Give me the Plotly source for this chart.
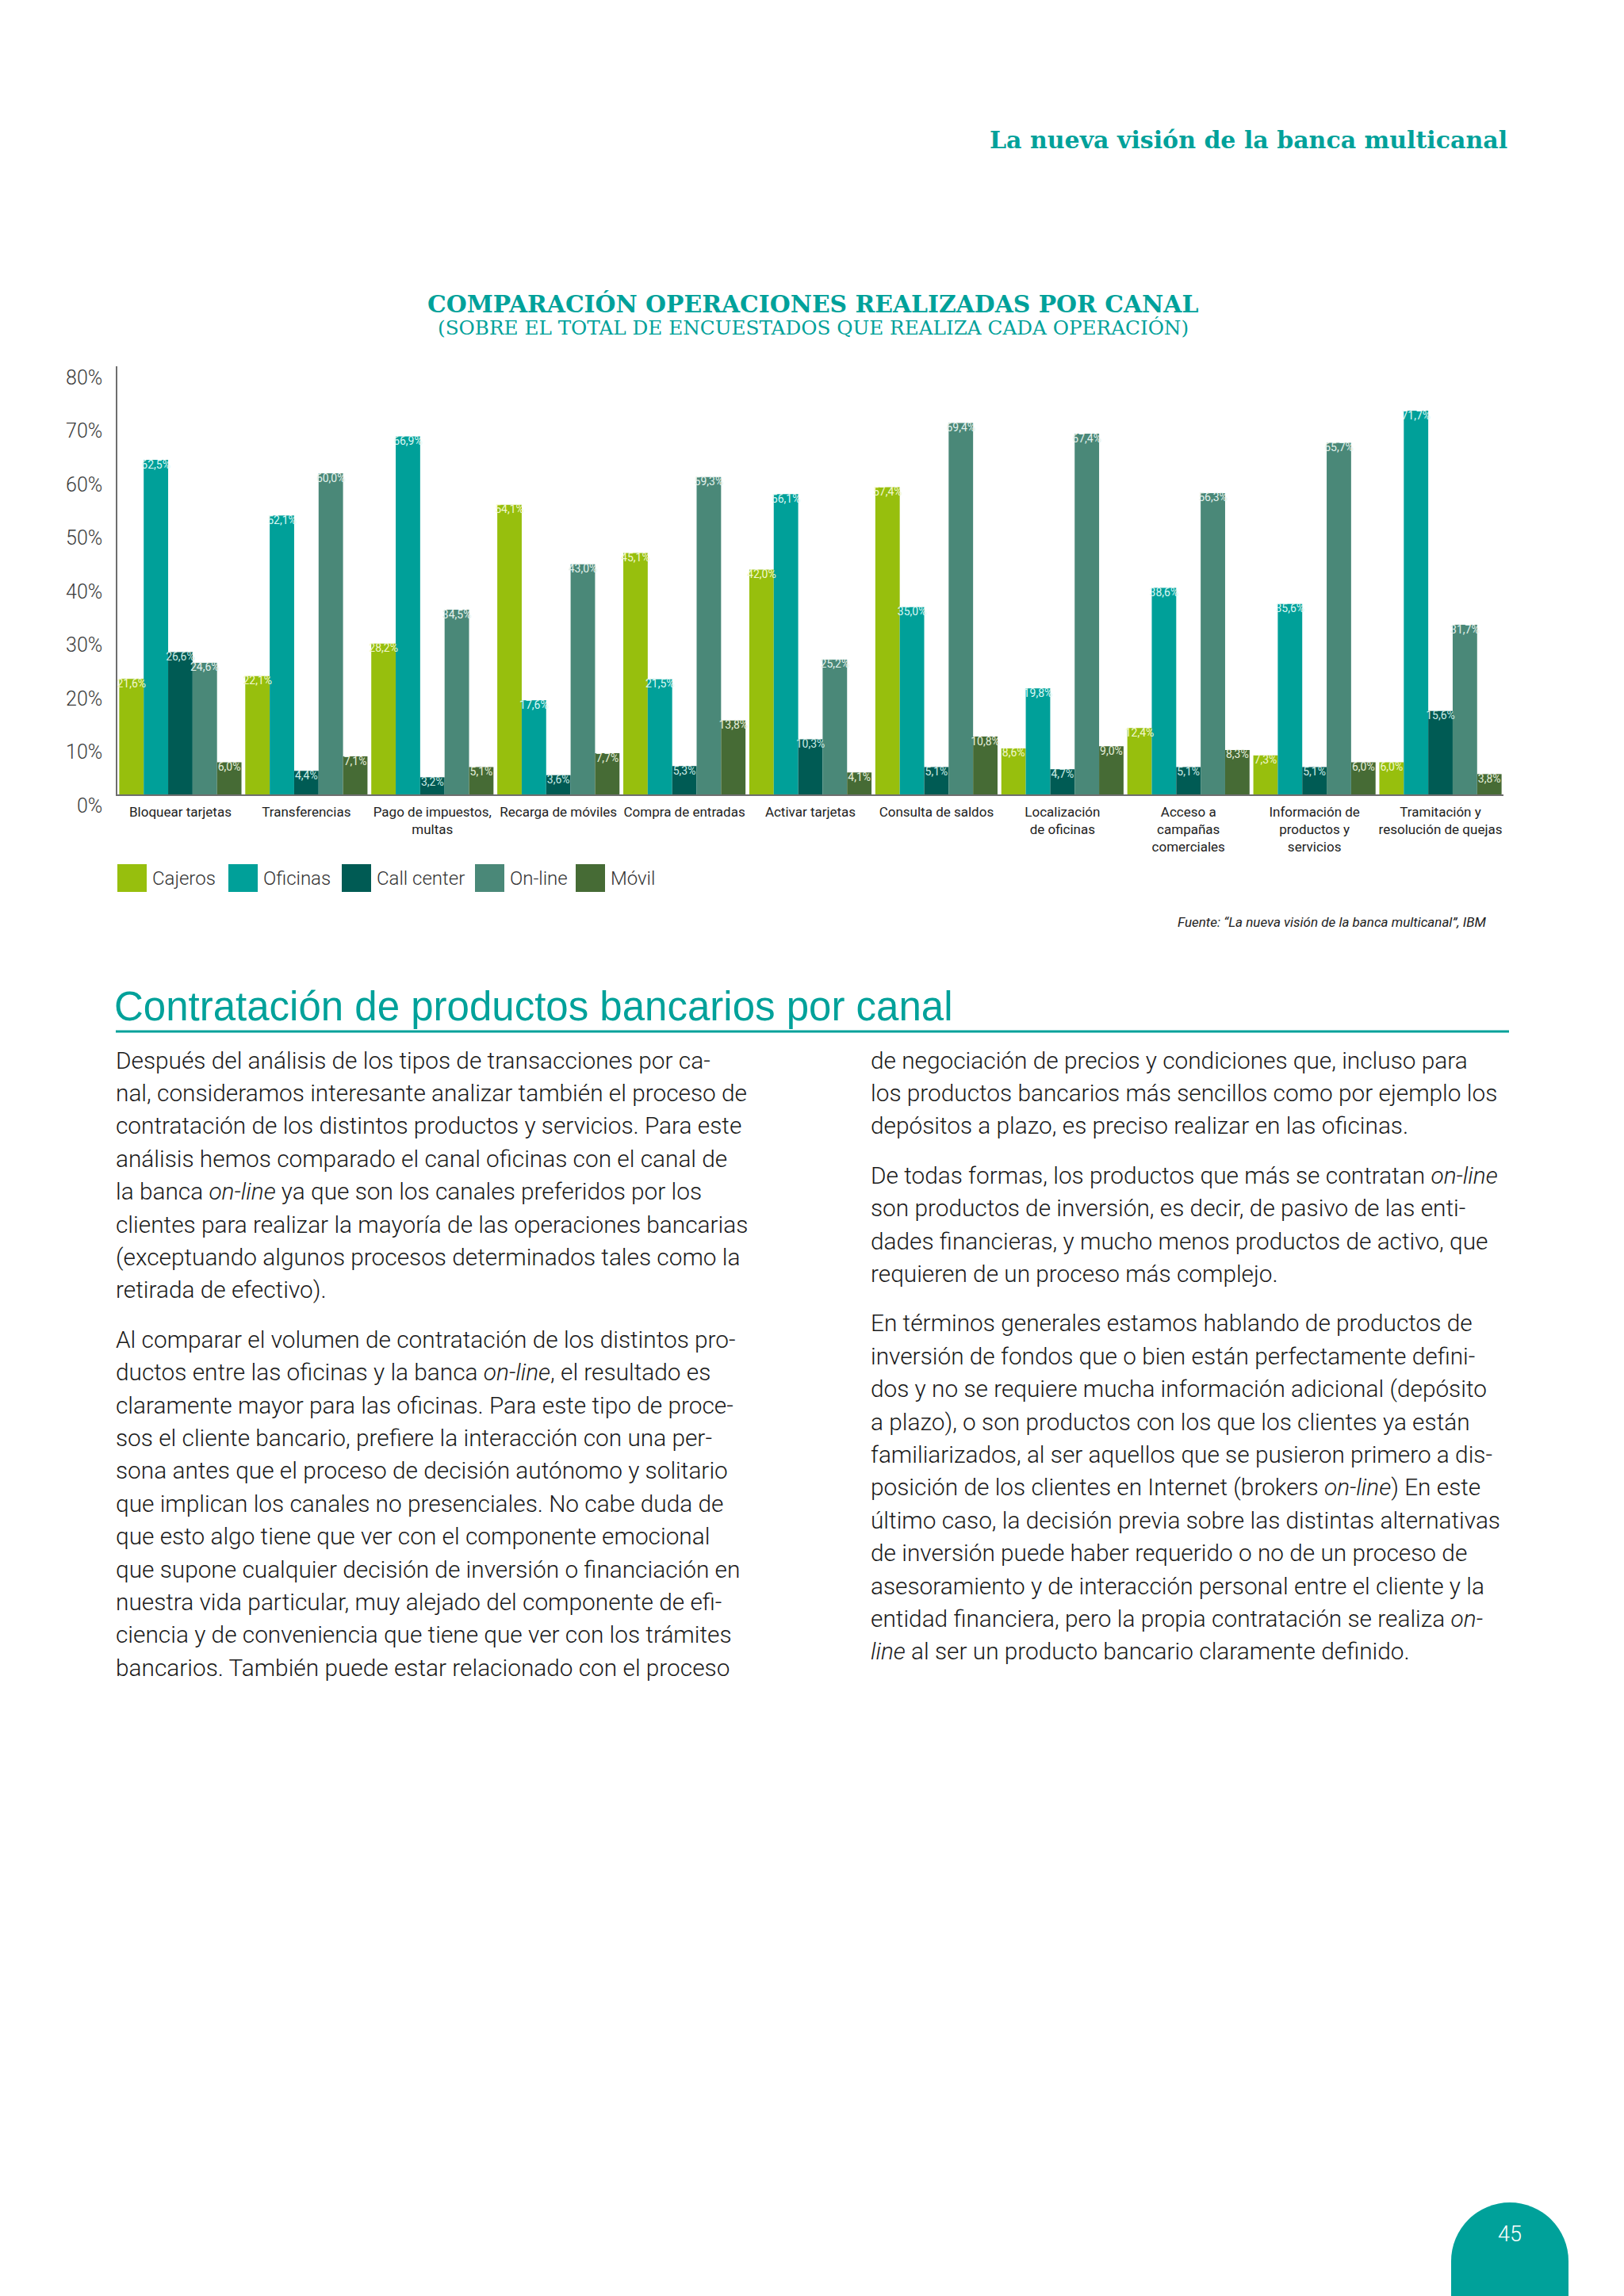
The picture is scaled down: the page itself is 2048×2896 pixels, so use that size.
import plotly.graph_objects as go

W, H = 2048, 2896
PAGE_OFFSET = 8  # browser body margin compensation

# ---------------- data ----------------
categories = [
    "Bloquear tarjetas", "Transferencias", "Pago de impuestos, multas",
    "Recarga de móviles", "Compra de entradas", "Activar tarjetas",
    "Consulta de saldos", "Localización de oficinas",
    "Acceso a campañas comerciales", "Información de productos y servicios",
    "Tramitación y resolución de quejas",
]
tick_labels = [
    "Bloquear tarjetas", "Transferencias", "Pago de impuestos,<br>multas",
    "Recarga de móviles", "Compra de entradas", "Activar tarjetas",
    "Consulta de saldos", "Localización<br>de oficinas",
    "Acceso a<br>campañas<br>comerciales", "Información de<br>productos y<br>servicios",
    "Tramitación y<br>resolución de quejas",
]
series_names = ["Cajeros", "Oficinas", "Call center", "On-line", "Móvil"]
cajeros     = [21.6, 22.1, 28.2, 54.1, 45.1, 42.0, 57.4, 8.6, 12.4, 7.3, 6.0]
oficinas    = [62.5, 52.1, 66.9, 17.6, 21.5, 56.1, 35.0, 19.8, 38.6, 35.6, 71.7]
call_center = [26.6, 4.4, 3.2, 3.6, 5.3, 10.3, 5.1, 4.7, 5.1, 5.1, 15.6]
on_line     = [24.6, 60.0, 34.5, 43.0, 59.3, 25.2, 69.4, 67.4, 56.3, 65.7, 31.7]
movil       = [6.0, 7.1, 5.1, 7.7, 13.8, 4.1, 10.8, 9.0, 8.3, 6.0, 3.8]
series_values = [cajeros, oficinas, call_center, on_line, movil]
y_ticks = [0, 10, 20, 30, 40, 50, 60, 70, 80]
y_tick_text = ["0%", "10%", "20%", "30%", "40%", "50%", "60%", "70%", "80%"]

# ---------------- styles ----------------
colors = ["#97BF0D", "#00A099", "#005B54", "#4A8878", "#466B35"]
label_colors = ["#F2F8D2", "#DDF8F5", "#CDEBE5", "#E4F2ED", "#E6EFDC"]
TEAL = "#00A19A"
LIGHT = "Roboto, Liberation Sans, Arial, sans-serif"
SANS = "Liberation Sans, Arial, Helvetica, sans-serif"
SERIF = "DejaVu Serif, serif"


def px(x):
    return (x - PAGE_OFFSET) / W


def py(y):
    return 1 - (y - PAGE_OFFSET) / H


fig = go.Figure()
for i, (name, vals, c) in enumerate(zip(series_names, series_values, colors)):
    fig.add_trace(go.Bar(
        x=categories, y=vals, name=name, offsetgroup=str(i),
        marker=dict(color=c, line=dict(width=0)),
        showlegend=False, hoverinfo="skip",
    ))
# value labels drawn above all bars, aligned with the bar groups
for i, (name, vals, lc) in enumerate(zip(series_names, series_values, label_colors)):
    fig.add_trace(go.Scatter(
        x=categories, y=vals, name=name, offsetgroup=str(i),
        mode="text", texttemplate="%{y:.1f}%", textposition="bottom center",
        textfont=dict(family=LIGHT, size=14, color=lc, weight=400),
        showlegend=False, hoverinfo="skip", cliponaxis=False,
    ))

annotations = []
shapes = []

# header
annotations.append(dict(
    text="<b>La nueva visión de la banca multicanal</b>", x=px(1903), y=py(176),
    xref="paper", yref="paper", xanchor="right", yanchor="middle", showarrow=False,
    font=dict(family=SERIF, size=30, color=TEAL)))
# chart title
annotations.append(dict(
    text="<b>COMPARACIÓN OPERACIONES REALIZADAS POR CANAL</b>", x=px(1025), y=py(384),
    xref="paper", yref="paper", xanchor="center", yanchor="middle", showarrow=False,
    font=dict(family=SERIF, size=29.8, color=TEAL)))
annotations.append(dict(
    text="(SOBRE EL TOTAL DE ENCUESTADOS QUE REALIZA CADA OPERACIÓN)", x=px(1025), y=py(413),
    xref="paper", yref="paper", xanchor="center", yanchor="middle", showarrow=False,
    font=dict(family=SERIF, size=24.7, color=TEAL)))

# manual legend
legend_x = [148, 288, 431, 599, 726]
for name, c, lx in zip(series_names, colors, legend_x):
    shapes.append(dict(type="rect", xref="paper", yref="paper",
                       x0=px(lx), x1=px(lx + 37), y0=py(1125), y1=py(1090),
                       fillcolor=c, line=dict(width=0)))
    annotations.append(dict(
        text=name, x=px(lx + 42), y=py(1108), xref="paper", yref="paper",
        xanchor="left", yanchor="middle", showarrow=False,
        font=dict(family=LIGHT, size=24, color="#333333", weight=300)))

# source
annotations.append(dict(
    text="Fuente: “La nueva visión de la banca multicanal”, IBM",
    x=px(1877), y=py(1163), xref="paper", yref="paper", xanchor="right",
    yanchor="middle", showarrow=False,
    font=dict(family=LIGHT, size=17, color="#222222", style="italic")))

# section heading
annotations.append(dict(
    text="Contratación de productos bancarios por canal", x=px(142), y=py(1270),
    xref="paper", yref="paper", xanchor="left", yanchor="middle", showarrow=False,
    font=dict(family=SANS, size=51, color=TEAL)))
shapes.append(dict(type="line", xref="paper", yref="paper",
                   x0=px(146), x1=px(1903), y0=py(1301), y1=py(1301),
                   line=dict(color=TEAL, width=3)))

# body text
left_col = [
    [
        "Después del análisis de los tipos de transacciones por ca-",
        "nal, consideramos interesante analizar también el proceso de",
        "contratación de los distintos productos y servicios. Para este",
        "análisis hemos comparado el canal oficinas con el canal de",
        "la banca <i>on-line</i> ya que son los canales preferidos por los",
        "clientes para realizar la mayoría de las operaciones bancarias",
        "(exceptuando algunos procesos determinados tales como la",
        "retirada de efectivo).",
    ],
    [
        "Al comparar el volumen de contratación de los distintos pro-",
        "ductos entre las oficinas y la banca <i>on-line</i>, el resultado es",
        "claramente mayor para las oficinas. Para este tipo de proce-",
        "sos el cliente bancario, prefiere la interacción con una per-",
        "sona antes que el proceso de decisión autónomo y solitario",
        "que implican los canales no presenciales. No cabe duda de",
        "que esto algo tiene que ver con el componente emocional",
        "que supone cualquier decisión de inversión o financiación en",
        "nuestra vida particular, muy alejado del componente de efi-",
        "ciencia y de conveniencia que tiene que ver con los trámites",
        "bancarios. También puede estar relacionado con el proceso",
    ],
]
right_col = [
    [
        "de negociación de precios y condiciones que, incluso para",
        "los productos bancarios más sencillos como por ejemplo los",
        "depósitos a plazo, es preciso realizar en las oficinas.",
    ],
    [
        "De todas formas, los productos que más se contratan <i>on-line</i>",
        "son productos de inversión, es decir, de pasivo de las enti-",
        "dades financieras, y mucho menos productos de activo, que",
        "requieren de un proceso más complejo.",
    ],
    [
        "En términos generales estamos hablando de productos de",
        "inversión de fondos que o bien están perfectamente defini-",
        "dos y no se requiere mucha información adicional (depósito",
        "a plazo), o son productos con los que los clientes ya están",
        "familiarizados, al ser aquellos que se pusieron primero a dis-",
        "posición de los clientes en Internet (brokers <i>on-line</i>) En este",
        "último caso, la decisión previa sobre las distintas alternativas",
        "de inversión puede haber requerido o no de un proceso de",
        "asesoramiento y de interacción personal entre el cliente y la",
        "entidad financiera, pero la propia contratación se realiza <i>on-</i>",
        "<i>line</i> al ser un producto bancario claramente definido.",
    ],
]
LINE_H = 41.4
PARA_GAP = 21
BODY_SIZE = 29.8


def place_column(paras, x0, y0):
    y = y0
    for para in paras:
        for line in para:
            annotations.append(dict(
                text=line, x=px(x0), y=py(y), xref="paper", yref="paper",
                xanchor="left", yanchor="middle", showarrow=False,
                font=dict(family=LIGHT, size=BODY_SIZE, color="#1A1A1A", weight=300)))
            y += LINE_H
        y += PARA_GAP


place_column(left_col, 144, 1337)
place_column(right_col, 1096, 1337)

# page number tab
shapes.append(dict(type="circle", xref="paper", yref="paper",
                   x0=px(1830), x1=px(1978), y0=py(2926), y1=py(2778),
                   fillcolor=TEAL, line=dict(width=0), layer="below"))
shapes.append(dict(type="rect", xref="paper", yref="paper",
                   x0=px(1830), x1=px(1978), y0=py(2910), y1=py(2852),
                   fillcolor=TEAL, line=dict(width=0), layer="below"))
annotations.append(dict(
    text="45", x=px(1904), y=py(2818), xref="paper", yref="paper",
    xanchor="center", yanchor="middle", showarrow=False,
    font=dict(family=LIGHT, size=27, color="white", weight=300)))

fig.update_layout(
    width=W, height=H,
    margin=dict(l=0, r=0, t=0, b=0, autoexpand=False),
    paper_bgcolor="white", plot_bgcolor="white",
    barmode="group", bargap=0.03, bargroupgap=0,
    scattermode="group", scattergap=0.03,
    separators=",.",
    annotations=annotations, shapes=shapes,
    xaxis=dict(
        domain=[px(148), px(1896)], automargin=False,
        tickmode="array", tickvals=categories, ticktext=tick_labels,
        tickangle=0, ticklabelstandoff=6,
        tickfont=dict(family=LIGHT, size=17, color="#222222"),
        showline=True, linecolor="#6E6E6E", linewidth=1.5,
        showgrid=False, ticks="", zeroline=False,
    ),
    yaxis=dict(
        domain=[py(1002), py(462)], range=[0, 80], automargin=False,
        tickmode="array", tickvals=y_ticks, ticktext=y_tick_text,
        tickfont=dict(family=LIGHT, size=25, color="#3A3A3A", weight=300),
        showline=True, linecolor="#6E6E6E", linewidth=1.5,
        showgrid=False, zeroline=False, ticks="",
        ticklabelshift=14, ticklabelstandoff=12,
    ),
    showlegend=False,
)

fig.write_html("out.html")
